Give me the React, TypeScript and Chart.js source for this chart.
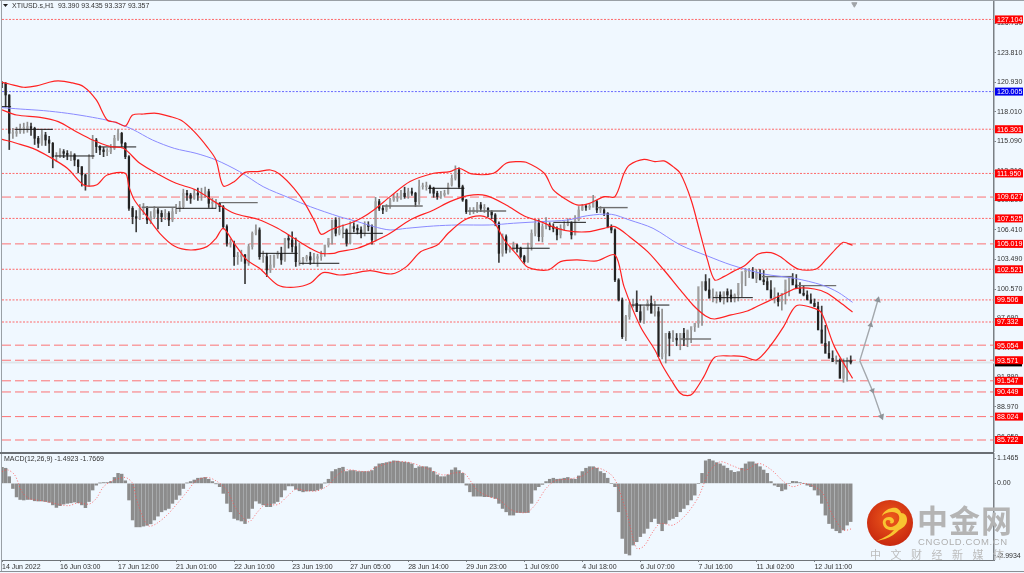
import React, { useEffect, useRef } from "react";
import { Chart, registerables } from "chart.js";

Chart.register(...registerables);

const FONT = '"Liberation Sans", sans-serif';
const BG = "#f0f8ff";

const tickLabels = ["14 Jun 2022","16 Jun 03:00","17 Jun 12:00","21 Jun 01:00","22 Jun 10:00","23 Jun 19:00","27 Jun 05:00","28 Jun 14:00","29 Jun 23:00","1 Jul 09:00","4 Jul 18:00","6 Jul 07:00","7 Jul 16:00","11 Jul 02:00","12 Jul 11:00"];
const barsPerTick = 32;
const barsPerCandle = 2;
const xMax = 547;

const priceTicks = [126.73,123.81,120.93,118.01,115.09,112.21,109.29,106.41,103.49,100.57,97.69,94.77,91.89,88.97,86.05];
const levelValues = [127.104,120.005,116.301,111.95,109.627,107.525,105.019,102.521,99.506,97.332,95.054,93.571,91.547,90.449,88.024,85.722];
const levelDashed = [false,false,false,false,true,false,true,false,false,false,true,true,true,true,true,true];
const levelBlue = [false,true,false,false,false,false,false,false,false,false,false,false,false,false,false,false];
const lastPrice = 93.357;

const closes = [
120.82,119.67,115.90,115.90,116.06,116.39,116.39,116.56,116.39,115.41,114.92,115.74,115.24,114.92,113.60,113.60,114.10,113.93,113.77,113.77,
113.28,112.62,111.80,110.82,113.60,115.24,114.59,114.26,114.10,114.10,114.42,115.41,115.90,114.92,113.60,108.52,107.70,107.54,108.52,108.52,
107.37,107.70,108.36,108.03,107.70,108.03,107.37,108.19,108.52,108.68,110.00,109.83,109.50,110.00,109.83,109.83,110.16,109.01,109.01,109.01,
108.68,106.72,105.08,105.08,103.76,103.76,103.93,103.11,104.75,106.06,106.39,103.76,103.76,102.45,102.94,103.93,104.09,103.44,105.57,105.40,
104.75,103.27,103.27,103.60,103.76,103.44,103.60,103.76,104.09,104.91,105.57,107.37,106.06,106.39,
106.39,105.08,106.72,106.55,106.39,106.06,106.88,106.72,105.41,109.18,108.52,108.36,108.69,109.34,109.51,109.51,110.00,109.67,110.16,110.00,
109.18,110.65,110.65,110.65,110.49,110.00,109.67,109.83,110.00,110.82,111.47,112.29,110.65,109.34,108.19,108.19,108.36,108.85,108.52,108.52,
108.19,107.87,107.05,104.09,105.73,104.42,104.42,104.91,104.59,103.77,103.27,104.75,106.06,107.05,105.73,106.72,106.88,106.72,106.55,105.90,
106.55,106.88,107.05,105.90,107.37,108.36,108.69,108.62,108.62,109.18,108.36,108.36,108.03,106.72,106.39,101.47,99.50,95.89,97.86,99.01,
99.17,98.35,97.53,98.85,99.17,98.19,98.35,93.93,94.25,96.22,95.73,95.73,95.57,
96.22,95.57,96.55,96.88,97.21,100.81,101.31,100.49,99.67,99.83,99.99,99.50,100.32,99.99,99.67,99.99,101.14,102.29,102.29,102.29,
101.63,102.13,101.47,101.31,100.49,99.67,99.83,99.34,100.16,101.47,101.63,100.98,100.65,100.16,99.99,99.50,99.17,98.85,96.55,95.24,
94.25,93.76,93.43,93.43,91.79,93.43,93.43,93.357];

const highs = [
121.0,120.9,119.7,116.4,116.5,116.8,116.9,117.0,116.9,116.5,115.6,116.2,116.0,115.6,115.0,114.0,114.4,114.3,114.2,114.1,
113.9,113.3,112.6,111.9,113.8,115.7,115.4,114.7,114.5,114.4,114.8,115.7,116.3,116.0,115.0,113.7,108.7,108.3,108.9,109.0,
108.7,108.2,108.7,108.6,108.3,108.4,108.2,108.6,108.9,109.2,110.4,110.3,110.0,110.4,110.5,110.5,110.6,110.4,109.5,109.4,
109.1,108.8,106.9,105.5,105.3,104.2,104.4,104.0,105.0,106.2,106.9,106.6,104.3,104.1,103.9,103.4,104.3,104.7,104.8,105.9,
106.2,105.6,105.1,103.7,103.9,104.2,104.1,104.0,104.3,104.5,105.2,105.9,107.6,107.6,
106.9,106.5,107.2,107.1,106.9,106.7,107.2,107.2,106.9,109.6,109.4,108.8,108.9,109.5,109.9,110.0,110.3,110.6,110.5,110.5,
110.1,111.3,111.0,111.1,110.8,110.6,110.2,110.2,110.3,111.0,111.8,112.7,112.5,110.8,109.4,108.6,108.6,109.1,109.1,108.9,
108.6,108.3,108.0,107.2,106.0,105.9,104.8,105.2,105.0,104.7,103.9,105.1,106.4,107.4,107.4,107.0,107.6,107.1,107.0,106.7,
106.9,107.2,107.5,107.2,107.8,108.7,108.9,108.9,108.9,109.8,109.3,108.7,108.5,108.1,106.9,106.5,101.6,99.7,98.0,99.3,
99.6,100.4,99.0,98.5,99.5,99.9,99.4,98.8,98.6,94.6,96.4,96.5,96.2,96.0,
96.7,96.4,96.8,97.2,97.5,101.1,102.0,101.6,100.6,100.3,100.3,100.2,100.6,100.5,100.1,100.3,101.4,102.6,102.6,102.7,
102.5,102.5,102.4,101.7,101.4,100.7,100.2,100.1,100.5,101.8,102.1,102.0,101.2,100.9,100.4,100.1,99.6,99.3,98.9,97.0,
95.4,94.5,94.0,93.7,93.7,93.8,94.0,93.435];

const lows = [
120.4,118.5,114.3,115.4,115.6,115.9,115.9,116.0,115.7,114.8,114.5,114.7,114.7,114.0,112.5,113.1,113.5,113.5,113.3,113.2,
112.7,112.0,110.7,110.3,110.7,113.4,114.0,113.8,113.6,113.7,113.9,114.3,115.2,114.6,113.4,108.3,107.0,106.2,107.4,107.9,
107.0,107.0,107.5,106.5,107.2,107.4,106.8,107.2,108.0,108.2,108.5,109.3,109.0,109.4,109.3,109.3,109.6,108.6,108.5,108.5,
108.2,106.5,104.8,104.7,102.9,103.0,103.3,101.1,102.9,104.5,105.9,103.5,103.2,101.8,102.2,102.7,103.6,103.0,103.3,104.6,
104.2,102.8,102.9,103.0,103.3,103.0,103.1,102.8,103.4,103.8,104.7,105.0,105.8,105.9,
105.6,104.8,105.0,106.2,106.0,105.6,105.8,106.3,105.0,105.3,108.3,108.0,108.2,108.5,109.2,109.2,109.4,109.5,109.5,109.8,
108.7,108.9,110.4,110.3,110.0,109.6,109.4,109.5,109.7,109.9,110.7,111.3,110.5,109.2,108.0,107.9,108.0,108.1,108.2,108.1,
107.7,107.5,106.8,103.2,103.8,104.1,104.2,104.5,104.2,103.6,103.1,103.2,104.4,105.8,105.3,105.2,106.5,106.4,106.2,105.4,
105.6,106.4,106.8,105.5,105.9,107.3,108.3,108.3,108.4,108.9,108.1,108.1,107.8,106.6,106.1,101.3,99.4,95.7,95.5,97.6,
98.8,98.7,97.3,97.2,98.5,98.6,97.9,97.9,93.7,93.3,94.0,95.4,95.0,94.6,
95.0,94.9,95.3,96.4,96.8,97.0,100.4,100.0,99.3,99.2,99.3,99.1,99.3,99.3,99.3,99.4,99.8,100.9,101.7,101.7,
101.2,101.5,101.0,101.0,100.2,99.2,98.9,98.5,99.1,99.9,101.2,100.6,100.3,99.9,99.7,99.3,98.9,98.6,96.4,94.9,
94.1,93.5,93.2,93.2,91.4,91.5,93.2,93.337];

const upperBand: number[][] = [[0,120.92],[4,120.75],[12,120.43],[19,120.56],[26,120.92],[31,121.05],[38,120.89],[45,120.49],[52,119.18],[58,117.21],[63,116.98],[68,116.62],[72,117.70],[78,117.80],[85,117.87],[93,117.54],[99,117.15],[106,116.06],[113,114.59],[118,113.28],[122,110.72],[128,111.14],[134,112.06],[141,112.13],[148,112.29],[153,111.90],[161,110.49],[167,109.01],[173,107.04],[176,105.96],[181,106.39],[186,106.72],[192,107.05],[198,107.54],[205,108.36],[214,109.67],[225,111.15],[238,111.97],[247,112.13],[252,112.46],[259,111.90],[271,111.97],[278,112.95],[284,113.11],[289,113.05],[299,111.97],[304,110.33],[310,109.51],[317,108.85],[324,109.01],[332,109.67],[338,109.67],[343,111.97],[346,112.79],[354,113.34],[360,113.11],[365,113.18],[370,112.62],[374,111.97],[380,109.34],[385,106.06],[389,103.44],[393,101.47],[398,101.80],[403,102.29],[410,102.95],[417,104.03],[424,104.16],[429,103.77],[439,102.55],[449,102.55],[455,103.60],[461,104.75],[464,105.18],[469,104.88]];

const middleBand: number[][] = [[0,118.20],[8,117.70],[21,117.47],[31,117.05],[41,116.06],[50,115.24],[60,114.59],[67,114.42],[76,112.95],[87,111.80],[96,110.98],[107,110.32],[118,109.08],[128,108.03],[141,107.44],[152,106.55],[161,105.57],[170,104.58],[176,104.09],[183,104.09],[186,104.26],[196,104.59],[205,105.24],[214,106.06],[225,107.37],[238,108.36],[247,109.18],[257,109.77],[267,109.77],[278,108.85],[288,107.77],[297,107.21],[306,106.55],[315,106.23],[324,106.23],[332,106.55],[338,106.72],[346,105.73],[356,104.26],[365,102.45],[374,100.49],[381,99.01],[388,97.93],[393,97.63],[402,98.03],[411,98.42],[418,99.01],[426,99.67],[433,100.26],[438,100.65],[448,100.58],[455,100.16],[462,99.27],[469,98.32]];

const lowerBand: number[][] = [[0,115.31],[8,114.92],[17,114.42],[26,113.60],[36,112.46],[45,110.82],[52,110.82],[58,111.80],[68,111.96],[70,110.65],[73,109.34],[80,107.70],[87,106.06],[95,104.81],[104,104.42],[113,104.75],[118,105.57],[122,106.55],[128,105.08],[135,103.44],[142,102.62],[152,100.98],[161,100.75],[170,101.14],[177,102.19],[186,101.96],[194,102.13],[203,102.39],[215,102.06],[223,102.78],[231,104.26],[240,104.91],[246,106.06],[255,107.37],[264,107.77],[271,107.21],[277,105.41],[284,103.93],[290,102.72],[301,102.45],[308,103.27],[317,103.44],[328,103.34],[338,103.93],[343,100.81],[352,96.88],[360,94.58],[364,93.11],[369,91.63],[374,90.32],[378,90.09],[381,90.32],[387,91.96],[393,93.86],[402,93.99],[409,93.93],[416,93.60],[424,95.07],[431,96.88],[438,98.94],[448,98.68],[452,98.19],[459,94.91],[469,91.79]];

const blueAverage: number[][] = [[0,118.43],[10,118.29],[23,118.13],[36,117.87],[50,117.47],[61,117.05],[72,116.29],[83,115.24],[95,114.42],[107,113.93],[118,113.28],[131,112.13],[144,110.65],[159,109.50],[170,108.68],[186,107.70],[196,107.21],[205,106.72],[214,106.39],[223,106.55],[238,106.78],[251,106.88],[269,106.88],[282,107.05],[297,107.21],[312,107.37],[323,107.80],[336,107.93],[346,107.37],[359,106.55],[374,104.91],[389,103.83],[402,102.95],[420,102.06],[437,101.63],[452,100.98],[461,100.26],[469,99.27]];

const pivotStart = [0,7,29,53,77,96,120,142,164,188,210,235,257,281,304,328,347,374,392,419,439,460];
const pivotEnd = [5,28,51,74,96,118,141,163,186,210,232,255,278,302,322,345,368,391,414,436,460,469];
const pivotPrice = [118.52,116.29,113.67,114.56,108.62,108.52,109.08,104.09,103.11,106.06,108.75,110.49,108.26,104.59,107.14,108.59,99.0,95.66,99.73,101.8,100.91,93.5];
const pivotGrey = [false,false,false,false,true,false,true,false,false,false,true,false,true,false,false,true,false,true,false,true,true,false];

const arrowUp: number[][] = [[473,93.53],[479,97.04],[483,99.5]];
const arrowDown: number[][] = [[473,93.53],[480,90.58],[485,88.02]];
const topMarker: number[][] = [[470,128.6]];

const macdHist = [
.63,.59,.26,-.20,-.53,-.63,-.65,-.63,-.63,-.68,-.69,-.69,-.71,-.74,-.84,-.94,-.87,-.81,-.78,-.76,-.73,-.76,-.84,-.95,-.71,-.26,-.07,.01,.03,.03,.07,.23,.39,.36,.10,-.65,-1.43,-1.70,-1.70,-1.67,-1.64,-1.58,-1.43,-1.28,-1.11,-1.04,-.98,-.78,-.63,-.46,-.20,.01,.07,.13,.20,.21,.23,.16,.07,-.01,-.13,-.39,-.78,-1.11,-1.37,-1.43,-1.47,-1.57,-1.37,-.98,-.69,-.78,-.84,-.91,-.91,-.78,-.71,-.53,-.26,-.10,-.10,-.23,-.29,-.33,-.30,-.29,-.29,-.26,-.20,.01,.16,.46,.54,.59,
.63,.46,.50,.50,.46,.46,.46,.46,.50,.65,.76,.78,.81,.84,.88,.87,.84,.83,.81,.76,.59,.65,.65,.65,.61,.46,.33,.26,.26,.33,.52,.61,.50,.39,-.07,-.33,-.50,-.50,-.50,-.52,-.52,-.54,-.59,-.78,-.98,-1.11,-1.24,
-1.24,-1.14,-1.14,-1.14,-1.14,-.78,-.26,-.13,-.04,.07,.16,.20,.16,.17,.20,.23,.17,.16,.29,.46,.59,.65,.65,.59,.46,.39,.20,0,-.13,-1.11,-2.15,-2.74,-2.80,-2.41,-2.28,-2.08,-1.95,-1.76,-1.50,-1.37,-1.57,-1.85,-1.57,-1.43,-1.37,-1.30,-1.11,-.98,-.84,-.65,-.46,0,.39,.88,.94,.88,.81,.76,.68,.59,.50,.43,.46,.59,.76,.84,.84,.76,.65,.52,.39,.07,-.07,-.13,-.29,-.23,0,.08,.07,.03,0,-.07,-.13,-.26,-.46,-.78,-1.24,-1.57,-1.76,-1.85,-1.93,-1.82,-1.63,-1.4923];

const macdSignal: number[][] = [[0,.46],[3,.53],[7,.33],[11,-.33],[15,-.59],[23,-.69],[32,-.83],[37,-.87],[42,-.76],[48,-.81],[52,-.59],[56,-.13],[61,.10],[68,.23],[72,0],[74,-.59],[78,-1.37],[81,-1.67],[85,-1.58],[91,-1.24],[96,-.84],[102,-.33],[107,.10],[113,.23],[118,.10],[124,-.26],[129,-.98],[136,-1.50],[141,-1.11],[145,-.83],[152,-.83],[157,-.53],[162,-.23],[168,-.29],[174,-.29],[180,-.07],[185,.33],[190,.53],[201,.46],[207,.65],[216,.84],[225,.81],[234,.59],[243,.33],[250,.41],[255,.39],[262,-.26],[269,-.53],[274,-.63],[281,-1.04],[289,-1.14],[294,-.84],[300,-.20],[305,.10],[313,.17],[320,.29],[327,.61],[335,.39],[339,0],[345,-1.30],[350,-2.54],[354,-2.45],[359,-1.88],[363,-1.57],[370,-1.63],[377,-1.24],[384,-.53],[390,.46],[396,.84],[403,.68],[410,.52],[417,.78],[424,.54],[431,.07],[436,-.13],[443,0],[452,-.33],[458,-1.24],[464,-1.82],[469,-1.7669]];
const macdMax = 1.1465;
const macdMin = -2.9934;

const headerText = "XTIUSD.s,H1  93.390 93.435 93.337 93.357";
const macdHeader = "MACD(12,26,9) -1.4923 -1.7669";

const pts = (a: number[][]) => a.map(([x, y]) => ({ x, y }));
const line = (data: any[], color: string, width: number, order: number, extra: any = {}) => ({
  type: "line", data, borderColor: color, borderWidth: width, pointRadius: 0, order, tension: 0, ...extra,
});
const noPad = (s: any) => { s.width = 30; s.paddingTop = 0; s.paddingBottom = 0; };

function mainConfig(): any {
  const opens = closes.map((c, i) => (i === 0 ? 120.9 : closes[i - 1]));
  const wicks = closes.map((_, i) => ({ x: i * barsPerCandle, y: [lows[i], highs[i]] }));
  const bodies = closes.map((c, i) => ({ x: i * barsPerCandle, y: [opens[i], c] }));
  const wickColors = closes.map((c, i) => (c < opens[i] ? "#3a3a3a" : "#8e8e8e"));
  const bodyColors = closes.map((c, i) => (c < opens[i] ? "#222222" : "#a0a0a0"));

  const datasets: any[] = [];
  levelValues.forEach((v, i) => {
    const color = levelBlue[i] ? "rgba(90,90,255,0.9)" : levelDashed[i] ? "rgba(255,80,80,0.8)" : "rgba(255,90,90,0.9)";
    datasets.push(line([{ x: 0, y: v }, { x: xMax, y: v }], color, 1, 20, {
      borderDash: levelDashed[i] ? [9, 4] : [2, 1.5],
    }));
  });
  datasets.push(line([{ x: 0, y: lastPrice }, { x: xMax, y: lastPrice }], "#dfe5ea", 2, 21));
  datasets.push({ type: "bar", data: wicks, backgroundColor: wickColors, barThickness: 1, grouped: false, order: 12 });
  datasets.push({ type: "bar", data: bodies, backgroundColor: bodyColors, barThickness: 1.6, minBarLength: 1, grouped: false, order: 11 });
  pivotPrice.forEach((p, i) => {
    datasets.push(line([{ x: pivotStart[i], y: p }, { x: pivotEnd[i], y: p }], pivotGrey[i] ? "#6f6f6f" : "#1a1a1a", pivotGrey[i] ? 1.4 : 1, 10));
  });
  datasets.push(line(pts(blueAverage), "#8a8aff", 1, 5, { tension: 0.3 }));
  datasets.push(line(pts(upperBand), "#ff2222", 1.2, 4, { tension: 0.3 }));
  datasets.push(line(pts(middleBand), "#ff2222", 1.2, 4, { tension: 0.3 }));
  datasets.push(line(pts(lowerBand), "#ff2222", 1.2, 4, { tension: 0.3 }));
  datasets.push(line(pts(arrowUp), "#a3a8ad", 1.4, 3, {
    pointRadius: [0, 2, 2.5], pointStyle: "triangle", pointRotation: 14, pointBackgroundColor: "#8f9499", pointBorderColor: "#8f9499",
  }));
  datasets.push(line(pts(arrowDown), "#a3a8ad", 1.4, 3, {
    pointRadius: [0, 2, 2.5], pointStyle: "triangle", pointRotation: 158, pointBackgroundColor: "#8f9499", pointBorderColor: "#8f9499",
  }));
  datasets.push(line(pts(topMarker), "#a0a4a8", 1, 3, {
    pointRadius: 3, pointStyle: "triangle", pointRotation: 180, pointBackgroundColor: "#a0a4a8", showLine: false, clip: false,
  }));

  return {
    type: "bar",
    data: { datasets },
    options: {
      animation: false, responsive: false, maintainAspectRatio: false,
      layout: { autoPadding: false, padding: { top: 2, bottom: 1, left: 2, right: 0 } },
      plugins: { legend: { display: false }, tooltip: { enabled: false }, title: { display: false } },
      scales: {
        x: { type: "linear", min: 0, max: xMax, offset: false, display: false, grid: { display: false } },
        y: {
          type: "linear", position: "right", min: 84.64, max: 128.82,
          grid: { display: true, drawOnChartArea: false, drawTicks: true, tickLength: 2, color: "#7b8085" },
          border: { display: true, color: "#7b8085", width: 1.5 },
          afterFit: noPad,
          afterBuildTicks: (s: any) => { s.ticks = priceTicks.map((value) => ({ value })); },
          ticks: {
            autoSkip: false, color: "#333", font: { family: FONT, size: 7 }, padding: 1,
            callback: (v: any) => Number(v).toFixed(3),
          },
        },
      },
    },
    plugins: [{
      id: "levelTags",
      afterDraw(chart: any) {
        const { ctx, scales } = chart;
        const y = scales.y;
        ctx.save();
        ctx.font = `7px ${FONT}`;
        ctx.textBaseline = "middle";
        ctx.textAlign = "left";
        ctx.fillStyle = "#333";
        ctx.fillText(headerText, 12, 6);
        ctx.fillStyle = "#222";
        ctx.beginPath(); ctx.moveTo(3, 4); ctx.lineTo(8, 4); ctx.lineTo(5.5, 7); ctx.fill();
        const py = y.getPixelForValue(lastPrice);
        ctx.fillStyle = "#000";
        ctx.fillRect(995, py - 4, 27, 8);
        levelValues.forEach((v, i) => {
          const p = y.getPixelForValue(v);
          ctx.fillStyle = levelBlue[i] ? "#0000ee" : "#ff0000";
          ctx.fillRect(995, p - 4, 28, 8);
          ctx.fillStyle = "#fff";
          ctx.fillText(v.toFixed(3), 997, p + 0.5);
        });
        ctx.restore();
      },
    }],
  };
}

function macdConfig(): any {
  return {
    type: "bar",
    data: {
      datasets: [
        line(pts(macdSignal), "#ff4a4a", 0.8, 1, { borderDash: [1, 2], tension: 0.3 }),
        {
          type: "bar", data: macdHist.map((v, i) => ({ x: i * barsPerCandle, y: v })),
          backgroundColor: "#8c8c8c", barThickness: 2.8, grouped: false, order: 2,
        },
      ],
    },
    options: {
      animation: false, responsive: false, maintainAspectRatio: false,
      layout: { autoPadding: false, padding: { top: 1, bottom: 0, left: 2, right: 0 } },
      plugins: { legend: { display: false }, tooltip: { enabled: false }, title: { display: false } },
      scales: {
        x: {
          type: "linear", min: 0, max: xMax, offset: false,
          grid: { display: true, drawOnChartArea: false, drawTicks: true, tickLength: 2, offset: false, color: "#7b8085" },
          border: { display: true, color: "#6f7479", width: 1 },
          afterFit: (s: any) => { s.height = 13; s.paddingLeft = 0; s.paddingRight = 0; },
          afterBuildTicks: (s: any) => { s.ticks = tickLabels.map((_, i) => ({ value: i * barsPerTick })); },
          ticks: {
            autoSkip: false, maxRotation: 0, minRotation: 0, align: "start", color: "#333", padding: 1,
            font: { family: FONT, size: 7 },
            callback: (v: any) => tickLabels[Math.round(Number(v) / barsPerTick)],
          },
        },
        y: {
          type: "linear", position: "right", min: macdMin, max: macdMax,
          grid: { display: true, drawOnChartArea: false, drawTicks: true, tickLength: 2, color: "#7b8085" },
          border: { display: true, color: "#7b8085", width: 1.5 },
          afterFit: noPad,
          afterBuildTicks: (s: any) => { s.ticks = [{ value: macdMax - 0.16 }, { value: 0 }, { value: macdMin + 0.16 }]; },
          ticks: {
            autoSkip: false, color: "#333", font: { family: FONT, size: 7 }, padding: 1,
            callback: (v: any) => (v === 0 ? "0.00" : v > 0 ? macdMax.toFixed(4) : macdMin.toFixed(4)),
          },
        },
      },
    },
    plugins: [{
      id: "macdHeader",
      afterDraw(chart: any) {
        const { ctx } = chart;
        ctx.save();
        ctx.font = `7px ${FONT}`;
        ctx.fillStyle = "#333";
        ctx.textBaseline = "middle";
        ctx.fillText(macdHeader, 4, 6.5);
        ctx.restore();
      },
    }],
  };
}

export default function App() {
  const mainRef = useRef<HTMLCanvasElement>(null);
  const macdRef = useRef<HTMLCanvasElement>(null);
  useEffect(() => {
    document.body.style.margin = "0";
    document.body.style.background = BG;
    const a = new Chart(mainRef.current!, mainConfig());
    const b = new Chart(macdRef.current!, macdConfig());
    return () => { a.destroy(); b.destroy(); };
  }, []);
  const abs: React.CSSProperties = { position: "absolute", whiteSpace: "nowrap" };
  return (
    <div style={{ position: "absolute", left: 0, top: 0, width: 1024, height: 573, overflow: "hidden", background: BG }}>
      <canvas ref={mainRef} width={1024} height={452} style={{ position: "absolute", left: 0, top: 0 }} />
      <canvas ref={macdRef} width={1024} height={120} style={{ position: "absolute", left: 0, top: 453 }} />
      <div style={{ ...abs, left: 0, top: 0, width: 1024, height: 1, background: "#9aa0a6" }} />
      <div style={{ ...abs, left: 1, top: 0, width: 1, height: 572, background: "#9aa0a6" }} />
      <div style={{ ...abs, left: 0, top: 452, width: 994, height: 2, background: "#6a6f74" }} />
      <div style={{ ...abs, left: 0, top: 571, width: 1024, height: 1, background: "#8a8f94" }} />
      <svg width="48" height="48" viewBox="0 0 48 48" style={{ position: "absolute", left: 866, top: 499 }}>
        <defs>
          <radialGradient id="lg" cx="50%" cy="40%" r="60%">
            <stop offset="0%" stopColor="#ee5a1c" />
            <stop offset="100%" stopColor="#c8280f" />
          </radialGradient>
        </defs>
        <circle cx="24" cy="24" r="23" fill="url(#lg)" />
        <path d="M26 9c4-1 8 1 9 5 4 0 6 3 6 7 0 5-4 8-8 10-4 4-8 7-14 9l-8 2c6-3 13-6 17-11-5 1-10-1-11-6-1-4 2-7 6-7 3 0 5 2 5 4 0 2-2 3-4 2 1-2 0-3-2-3-2 0-3 2-2 4 1 3 5 4 8 2 4-2 6-6 5-10-1-3-4-4-7-4-4 0-7 1-10 4 1-4 5-7 10-8z" fill="#f8c531" />
      </svg>
      <div style={{ ...abs, left: 917, top: 498, fontFamily: '"Noto Sans CJK SC"', fontWeight: 700, fontSize: 31, letterSpacing: 1, color: "#b4b4b4", lineHeight: "42px" }}>中金网</div>
      <div style={{ ...abs, left: 918, top: 536, fontFamily: FONT, fontSize: 9.5, letterSpacing: 0.6, color: "#b0b0b0", lineHeight: "11px" }}>CNGOLD.COM.CN</div>
      <div style={{ ...abs, left: 870, top: 548, fontFamily: '"Noto Sans CJK SC"', fontSize: 11, letterSpacing: 9.5, color: "#bcbcbc", lineHeight: "13px" }}>中文财经新媒体</div>
    </div>
  );
}
